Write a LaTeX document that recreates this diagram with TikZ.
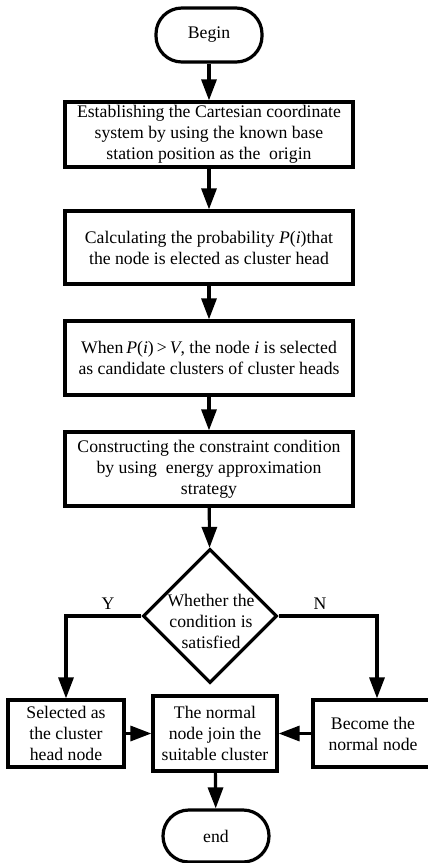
\documentclass[tikz,border=0pt]{standalone}
\usepackage{fontspec}
\setmainfont{Liberation Serif}
\usetikzlibrary{positioning, arrows.meta, shapes.geometric, shadows}

\begin{document}
\begin{tikzpicture}[x=1pt, y=-1pt, >={Triangle[length=21pt, width=15pt]},
  every node/.style={font=\fontsize{17.7}{21}\selectfont},
  flow/.style={->, line width=3.2pt},
  procbox/.style={draw, line width=3.2pt, fill=white, align=center, inner sep=2pt,
    drop shadow={shadow xshift=1.5pt, shadow yshift=-1.5pt, fill=black!20}},
  termbox/.style={draw, line width=3.2pt, fill=white, rounded corners=25.9pt,
    minimum width=106pt, minimum height=52pt,
    drop shadow={shadow xshift=1.5pt, shadow yshift=-1.5pt, fill=black!20}},
  decision/.style={diamond, draw, line width=3.2pt, fill=white, inner sep=0pt,
    minimum width=134pt, minimum height=134pt,
    drop shadow={shadow xshift=1.5pt, shadow yshift=-1.5pt, fill=black!20}}]
  \useasboundingbox (0,0) rectangle (428,863);

  % main column
  \node[termbox, minimum height=54pt] (begin) at (209,35) {Begin};
  \node[procbox, minimum width=288pt, minimum height=65pt] (coord) at (209,134.5)
    {Establishing the Cartesian coordinate\\system by using the known base\\station position as the\ \ origin};
  \node[procbox, minimum width=288pt, minimum height=73pt] (prob) at (209,247.5)
    {Calculating the probability \textit{P}(\textit{i})that\\the node is elected as cluster head};
  \node[procbox, minimum width=288pt, minimum height=74pt] (cand) at (209,358)
    {When\,\textit{P}(\textit{i})\,>\,\textit{V}, the node \textit{i} is selected\\as candidate clusters of cluster heads};
  \node[procbox, minimum width=288pt, minimum height=74pt] (cons) at (209,469)
    {Constructing the constraint condition\\by using\ \ energy approximation\\strategy};
  \node[decision] (cond) at (210,616) {};
  \node[align=center] (condtxt) at (211,621) {Whether the\\condition is\\satisfied};

  % bottom row
  \node[procbox, minimum width=116pt, minimum height=67pt] (sel) at (66,733.5)
    {Selected as\\the cluster\\head node};
  \node[procbox, minimum width=124pt, minimum height=75pt] (join) at (215,733.5)
    {The normal\\node join the\\suitable cluster};
  \node[procbox, minimum width=140pt, minimum height=67pt] (norm) at (383,733.5)
    {Become the\hspace*{20pt}\\normal node\hspace*{20pt}};
  \node[termbox] (end) at (216,836) {end};

  \node (ylab) at (108,604) {Y};
  \node (nlab) at (320,604) {N};

  \draw[flow] (begin) -- (coord);
  \draw[flow] (coord) -- (prob);
  \draw[flow] (prob) -- (cand);
  \draw[flow] (cand) -- (cons);
  \draw[flow] (cons) -- (cond);
  \draw[flow] (cond.west) -| (sel.north);
  \draw[flow] (cond.east) -| ([xshift=-6pt]norm.north);
  \draw[flow] (sel) -- (join);
  \draw[flow] (norm) -- (join);
  \draw[flow] (join) -- (end);
\end{tikzpicture}
\end{document}
